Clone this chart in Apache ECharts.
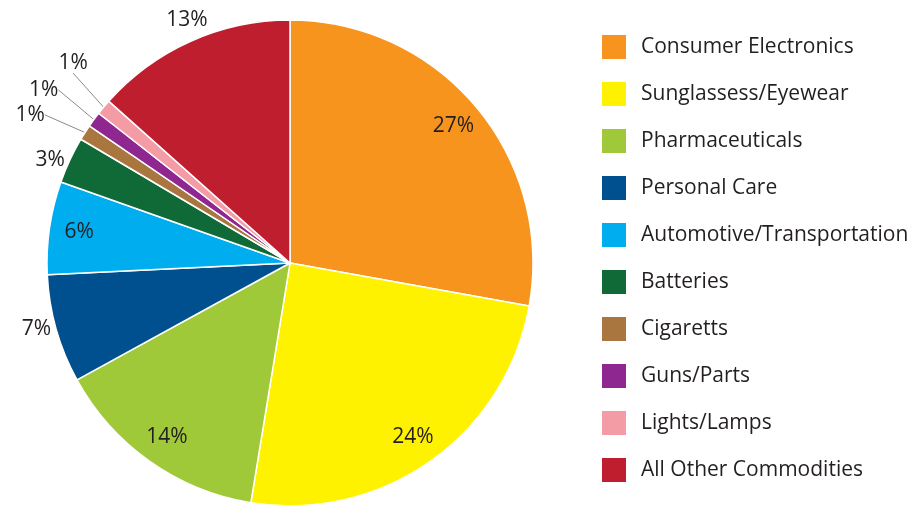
<!DOCTYPE html>
<html>
<head>
<meta charset="utf-8">
<script src="https://cdn.jsdelivr.net/npm/echarts@6/dist/echarts.min.js"></script>
<style>
  html, body { margin: 0; padding: 0; background: #fff; }
  #chart { width: 915px; height: 508px; }
</style>
</head>
<body>
<div id="chart"></div>
<script>
const categories = [
  'Consumer Electronics',
  'Sunglassess/Eyewear',
  'Pharmaceuticals',
  'Personal Care',
  'Automotive/Transportation',
  'Batteries',
  'Cigaretts',
  'Guns/Parts',
  'Lights/Lamps',
  'All Other Commodities'
];
const shares = [27, 24, 14, 7, 6, 3, 1, 1, 1, 13];
const colors = ['#F7941D', '#FFF200', '#A0C93A', '#00508F', '#00AEEF', '#0F6A37', '#A97640', '#8E278F', '#F49CA5', '#BE1E2D'];

// slices with the percentage written inside the pie
const insideLabels = ['Consumer Electronics', 'Sunglassess/Eyewear', 'Pharmaceuticals', 'Automotive/Transportation'];
// thin slices that get a grey leader line
const leaderLines = ['Cigaretts', 'Guns/Parts', 'Lights/Lamps'];
// small shifts [dx, dy] for some outside labels
const labelNudge = {
  'Cigaretts': [-20, -8],
  'Guns/Parts': [-16, -19],
  'Lights/Lamps': [3, -33],
  'All Other Commodities': [22, -21]
};

const font = '"Open Sans", Lato, sans-serif';
const center = [290, 263];

const chart = echarts.init(document.getElementById('chart'));
chart.setOption({
  animation: false,
  legend: {
    orient: 'vertical',
    left: 602,
    top: 35,
    padding: 0,
    itemWidth: 24,
    itemHeight: 24,
    itemGap: 23,
    icon: 'rect',
    selectedMode: false,
    itemStyle: { borderWidth: 0 },
    textStyle: { fontSize: 21, color: '#231f20', fontFamily: font, padding: [0, 0, 0, 10] },
    data: categories
  },
  series: [
    {
      type: 'pie',
      center: center,
      radius: 243,
      startAngle: 90,
      clockwise: true,
      avoidLabelOverlap: false,
      silent: true,
      itemStyle: { borderColor: '#fff', borderWidth: 1.5 },
      label: {
        position: 'outside',
        distance: 5,
        fontSize: 21,
        color: '#231f20',
        fontFamily: font,
        formatter: '{c}%'
      },
      labelLine: {
        show: false,
        length: 18,
        length2: 0,
        lineStyle: { color: '#8a8a8a', width: 1 }
      },
      labelLayout: function (p) {
        const nudge = labelNudge[categories[p.dataIndex]];
        if (!nudge) return {};
        return {
          x: p.labelRect.x + p.labelRect.width / 2 + nudge[0],
          y: p.labelRect.y + p.labelRect.height / 2 + nudge[1],
          align: 'center',
          verticalAlign: 'middle'
        };
      },
      data: categories.map(function (name, i) {
        const hasLine = leaderLines.indexOf(name) >= 0;
        return {
          name: name,
          value: shares[i],
          itemStyle: { color: colors[i] },
          label: { show: insideLabels.indexOf(name) < 0 },
          labelLine: { show: hasLine, length: hasLine ? 18 : 0 }
        };
      })
    },
    {
      // same slices, invisible, only used to place the inside labels further out
      type: 'pie',
      center: center,
      radius: [0, 420],
      startAngle: 90,
      clockwise: true,
      silent: true,
      legendHoverLink: false,
      z: 3,
      itemStyle: { color: 'transparent', borderWidth: 0 },
      emphasis: { disabled: true },
      label: {
        position: 'inside',
        fontSize: 21,
        color: '#231f20',
        fontFamily: font,
        formatter: '{c}%'
      },
      labelLine: { show: false },
      data: categories.map(function (name, i) {
        return {
          name: name,
          value: shares[i],
          label: { show: insideLabels.indexOf(name) >= 0 }
        };
      })
    }
  ]
});
</script>
</body>
</html>
